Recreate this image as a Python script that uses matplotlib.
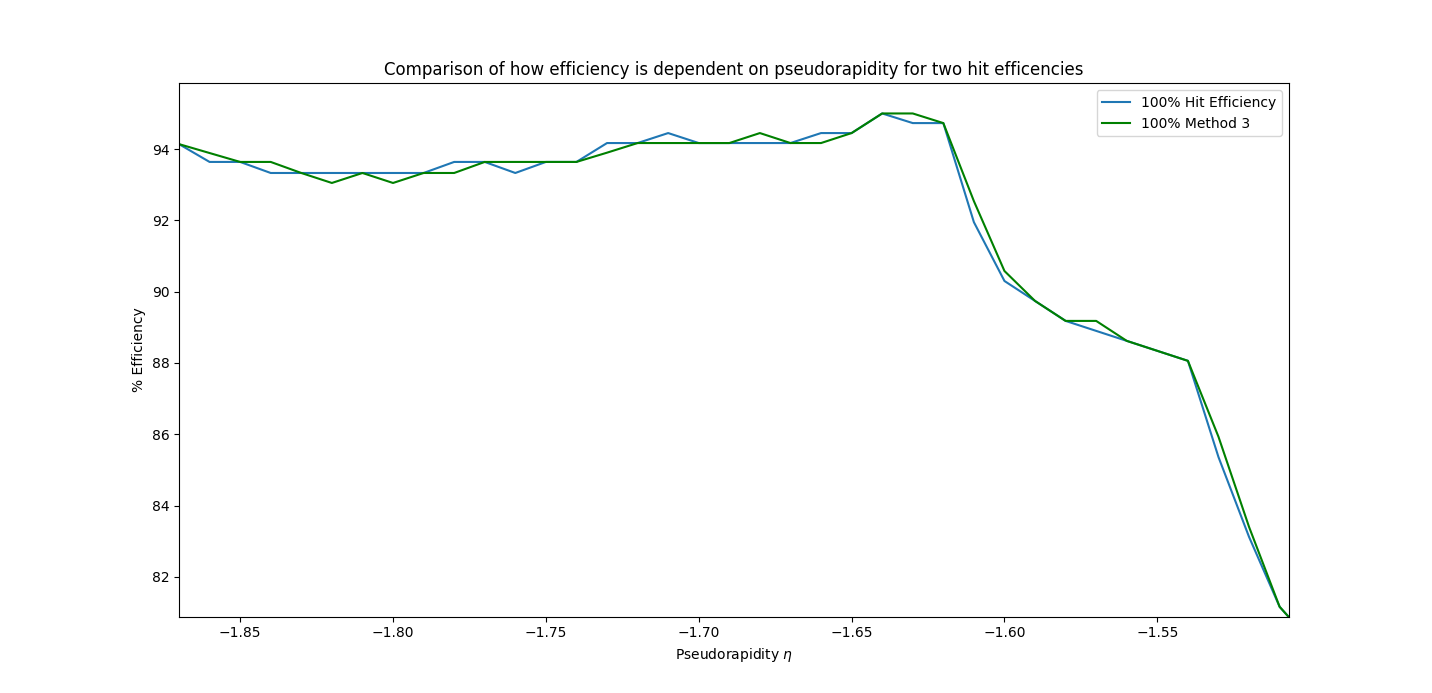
import numpy as np
import matplotlib
matplotlib.use('Agg')
import matplotlib.pyplot as plt

# pseudorapidity bins
eta = np.round(np.arange(-1.87, -1.495, 0.01), 2)

hit_eff = [94.14, 93.64, 93.64, 93.33, 93.33, 93.33, 93.33, 93.33, 93.33, 93.64,
           93.64, 93.33, 93.64, 93.64, 94.17, 94.17, 94.45, 94.17, 94.17, 94.17,
           94.17, 94.45, 94.45, 95.0, 94.73, 94.73, 91.95, 90.3, 89.74, 89.18,
           88.9, 88.62, 88.34, 88.06, 85.36, 83.12, 81.16, 80.2]
method3 = [94.14, 93.89, 93.64, 93.64, 93.33, 93.05, 93.33, 93.05, 93.33, 93.33,
           93.64, 93.64, 93.64, 93.64, 93.9, 94.17, 94.17, 94.17, 94.17, 94.45,
           94.17, 94.17, 94.45, 95.0, 95.0, 94.73, 92.54, 90.58, 89.74, 89.18,
           89.18, 88.62, 88.34, 88.06, 85.93, 83.4, 81.16, 80.2]

fig = plt.figure(figsize=(14.32, 6.93), dpi=100)
plt.plot(eta, hit_eff, label='100% Hit Efficiency')
plt.plot(eta, method3, color='green', label='100% Method 3')
plt.xlim(-1.87, -1.507)
plt.ylim(80.88, 95.85)
plt.xlabel(r'Pseudorapidity $\eta$')
plt.ylabel('% Efficiency')
plt.title('Comparison of how efficiency is dependent on pseudorapidity for two hit efficencies')
plt.legend(loc='upper right')
plt.savefig('out.png')
